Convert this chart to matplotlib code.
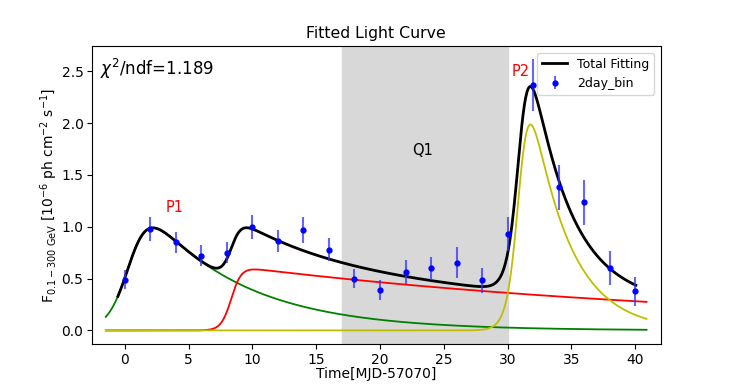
import numpy as np
import matplotlib
matplotlib.use("Agg")
import matplotlib.pyplot as plt

# Data points (2-day bins)
t_days = [0, 2, 4, 6, 8, 10, 12, 14, 16, 18, 20, 22, 24, 26, 28, 30, 32, 34, 36, 38, 40]
flux = [0.49, 0.98, 0.85, 0.72, 0.75, 1.00, 0.86, 0.97, 0.78, 0.50, 0.39, 0.565, 0.60, 0.655, 0.485,
        0.93, 2.365, 1.38, 1.235, 0.605, 0.38]
flux_err = [0.09, 0.115, 0.10, 0.10, 0.10, 0.115, 0.105, 0.125, 0.11, 0.095, 0.095, 0.115, 0.11, 0.15,
            0.12, 0.165, 0.25, 0.215, 0.22, 0.165, 0.14]

# Fitted flare components: (2*F0, t0, Tr, Td)
p1_params = [1.385, 0.51, 0.88, 7.5]
mid_params = [0.622, 8.35, 0.40, 40.0]
p2_params = [2.993, 31.03, 0.50, 3.0]

comp_range = [-1.5, 40.9]
total_range = [-0.55, 40.06]
quiet_span = [17.0, 30.05]


def flare(t, amp2, t0, tr, td):
    return amp2 / (np.exp((t0 - t) / tr) + np.exp((t - t0) / td))


fig = plt.figure(figsize=(7.34, 3.87), dpi=100)
ax = fig.add_subplot(111)

tc = np.linspace(comp_range[0], comp_range[1], 800)
tt = np.linspace(total_range[0], total_range[1], 800)

ax.axvspan(quiet_span[0], quiet_span[1], color="#d8d8d8", zorder=0)

g = flare(tc, *p1_params)
r = flare(tc, *mid_params)
yv = flare(tc, *p2_params)
tot = flare(tt, *p1_params) + flare(tt, *mid_params) + flare(tt, *p2_params)

ax.plot(tc, g, color="g", lw=1.3)
ax.plot(tc, r, color="r", lw=1.3)
ax.plot(tc, yv, color="y", lw=1.3)
ax.plot(tt, tot, color="k", lw=2.0, label="Total Fitting")
ax.errorbar(t_days, flux, yerr=flux_err, fmt="o", color="b", ms=3.5,
            ecolor=(0.2, 0.2, 1.0, 0.75), elinewidth=1.5, label="2day_bin", zorder=5)

ax.set_xlim(-2.6, 42.0)
ax.set_ylim(-0.135, 2.74)
ax.set_xticks([0, 5, 10, 15, 20, 25, 30, 35, 40])
ax.set_yticks([0.0, 0.5, 1.0, 1.5, 2.0, 2.5])
ax.tick_params(labelsize=10, pad=2.5)

ax.text(3.9, 1.19, "P1", color="r", fontsize=10.5, ha="center", va="center")
ax.text(31.0, 2.5, "P2", color="r", fontsize=10.5, ha="center", va="center")
ax.text(23.3, 1.74, "Q1", color="k", fontsize=10.5, ha="center", va="center")
ax.text(0.015, 0.965, r"$\chi^2$/ndf=1.189", transform=ax.transAxes, fontsize=12,
        ha="left", va="top")

ax.set_title("Fitted Light Curve", fontsize=11.3)
ax.set_xlabel("Time[MJD-57070]", fontsize=10, labelpad=0)
ax.set_ylabel(r"F$_{0.1-300\ \mathrm{GeV}}$ [10$^{-6}$ ph cm$^{-2}$ s$^{-1}$]", fontsize=10,
              labelpad=1)
ax.legend(loc="upper right", fontsize=9, numpoints=1)

fig.savefig("out.png", dpi=100)
